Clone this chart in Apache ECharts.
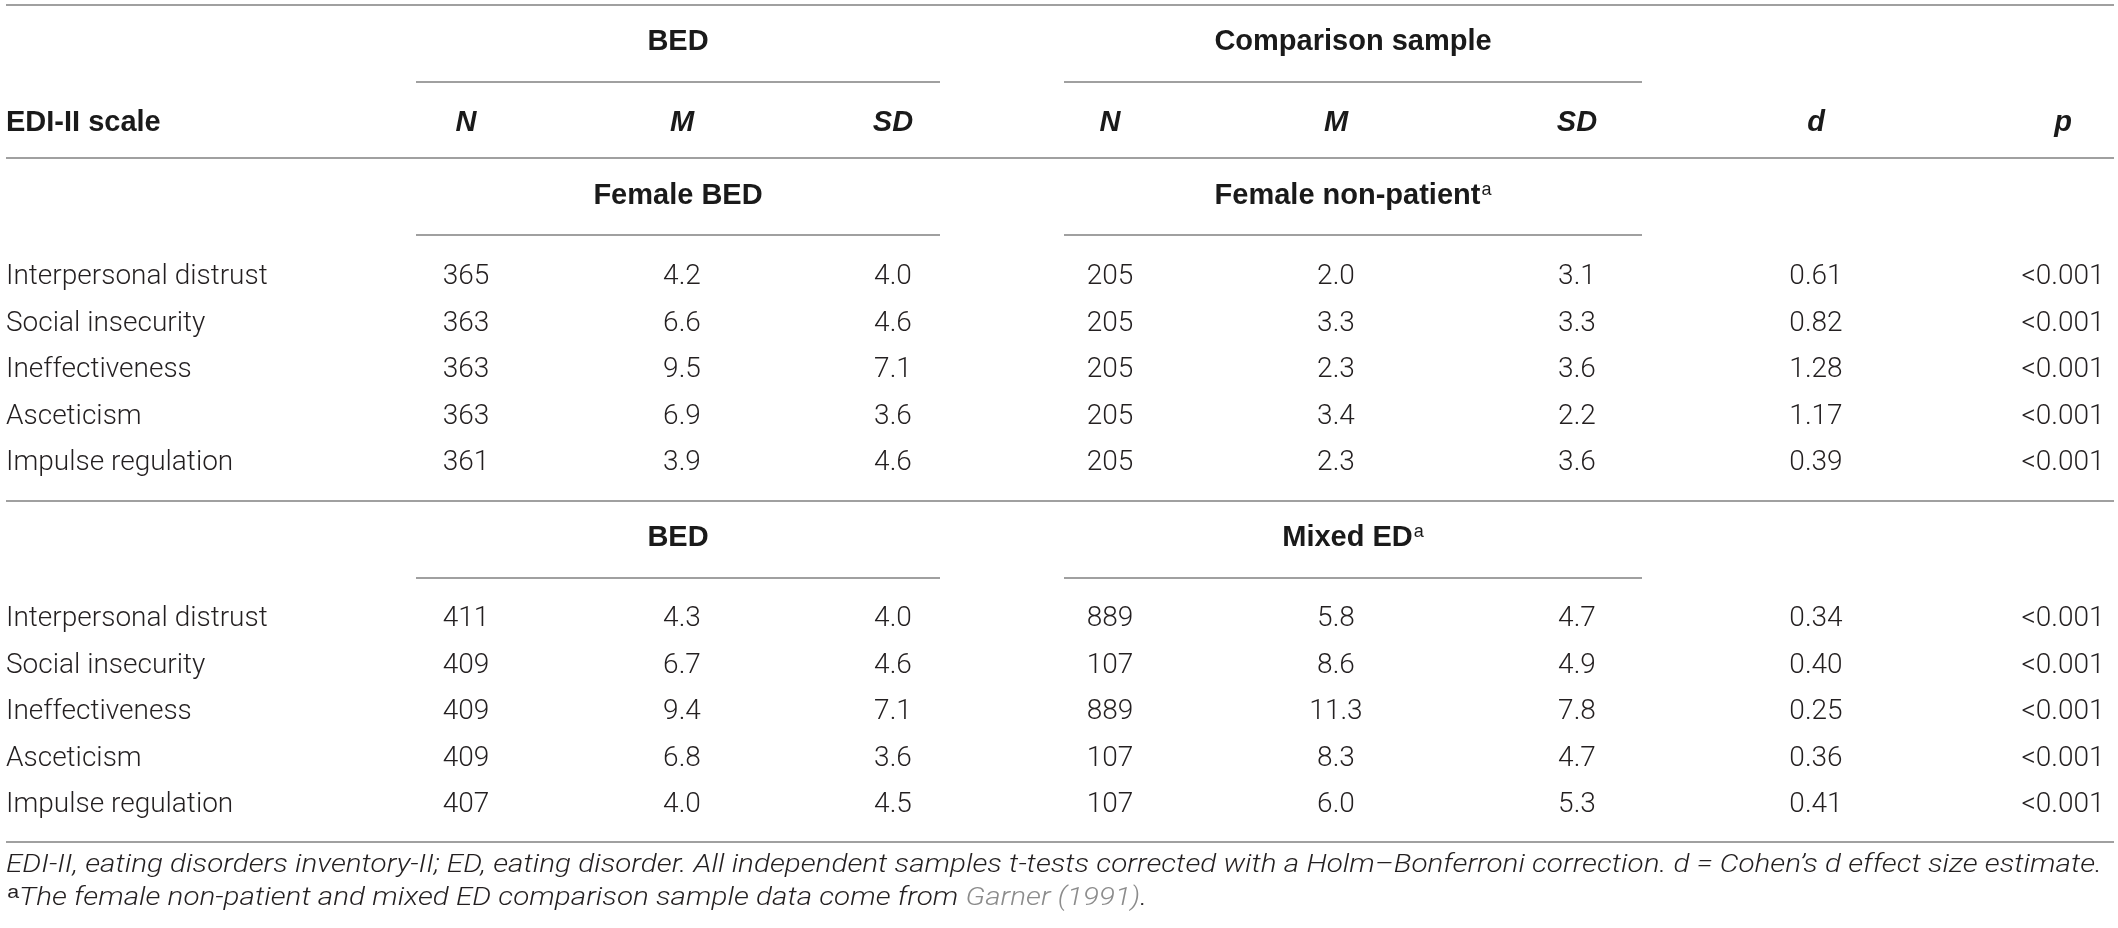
<!DOCTYPE html>
<html>
<head>
<meta charset="utf-8">
<title>EDI-II scale comparison</title>
<script src="https://cdn.jsdelivr.net/npm/echarts@6/dist/echarts.min.js"></script>
<style>
  html, body { margin: 0; padding: 0; background: #fff; }
  #table { width: 2118px; height: 928px; }
</style>
</head>
<body>
<div id="table"></div>
<script>
// ---- data ----
const scales = ['Interpersonal distrust', 'Social insecurity', 'Ineffectiveness', 'Asceticism', 'Impulse regulation'];

// female BED vs female non-patient
const femaleBedN = [365, 363, 363, 363, 361];
const femaleBedM = [4.2, 6.6, 9.5, 6.9, 3.9];
const femaleBedSD = [4.0, 4.6, 7.1, 3.6, 4.6];
const nonPatientN = [205, 205, 205, 205, 205];
const nonPatientM = [2.0, 3.3, 2.3, 3.4, 2.3];
const nonPatientSD = [3.1, 3.3, 3.6, 2.2, 3.6];
const femaleD = [0.61, 0.82, 1.28, 1.17, 0.39];
const femaleP = ['<0.001', '<0.001', '<0.001', '<0.001', '<0.001'];

// BED vs mixed ED
const bedN = [411, 409, 409, 409, 407];
const bedM = [4.3, 6.7, 9.4, 6.8, 4.0];
const bedSD = [4.0, 4.6, 7.1, 3.6, 4.5];
const mixedN = [889, 107, 889, 107, 107];
const mixedM = [5.8, 8.6, 11.3, 8.3, 6.0];
const mixedSD = [4.7, 4.9, 7.8, 4.7, 5.3];
const mixedD = [0.34, 0.40, 0.25, 0.36, 0.41];
const mixedP = ['<0.001', '<0.001', '<0.001', '<0.001', '<0.001'];

const groupHeads = ['BED', 'Comparison sample'];
const colHeads = ['N', 'M', 'SD', 'N', 'M', 'SD', 'd', 'p'];
const block1Heads = ['Female BED', '{t|Female non-patient}{sup|a}'];
const block2Heads = ['BED', '{t|Mixed ED}{sup|a}'];
const note1 = 'EDI-II, eating disorders inventory-II; ED, eating disorder. All independent samples t-tests corrected with a Holm\u2013Bonferroni correction. d = Cohen\u2019s d effect size estimate.';
const note2 = '{sup|a}{t|The female non-patient and mixed ED comparison sample data come from }{link|Garner (1991)}{t|.}';

// ---- layout ----
const W = 2118, H = 928;
const colX = [6, 466, 682, 893, 1110, 1336, 1577, 1816, 2063];   // label col + 8 value cols
const spanBed = [416, 940];
const spanCmp = [1064, 1642];
const yGroup = 42, yColHead = 123, yBlock1Head = 196, yBlock2Head = 538;
const block1Y = [277, 323.5, 370, 416.5, 463];
const block2Y = [619, 665.5, 712, 758.5, 805];
const yNote1 = 866, yNote2 = 899;
const noteWidth = 2096;

const INK = '#231f20';
const RULE = '#808080';
const LIGHT = { fontFamily: 'Roboto', fontWeight: 300, fontSize: 28, fill: INK };
const BOLD = { fontFamily: 'Liberation Sans', fontWeight: 'bold', fontSize: 29, fill: '#1a1a1a' };
const BOLDIT = { fontFamily: 'Liberation Sans', fontWeight: 'bold', fontStyle: 'italic', fontSize: 29, fill: '#1a1a1a' };
const NOTE = { fontFamily: 'Roboto', fontWeight: 300, fontStyle: 'italic', fontSize: 25, fill: INK };
const SUP_RICH = {
  t: {},
  sup: { fontSize: 18, padding: [0, 0, 12, 1] },
  link: { fill: '#8c8c8c', color: '#8c8c8c' }
};

// horizontal stretch so the footnote fills the table width like the original typeset
const measureCtx = document.createElement('canvas').getContext('2d');
measureCtx.font = 'italic 300 25px Roboto';
const noteScale = noteWidth / measureCtx.measureText(note1).width;

// ---- build cells ----
const cells = [];
function cell(x, y, text, style, align, scaleX) {
  cells.push({ value: [x, y], text: text, style: style, align: align || 'center', scaleX: scaleX || 1 });
}

cell((spanBed[0] + spanBed[1]) / 2, yGroup, groupHeads[0], BOLD);
cell((spanCmp[0] + spanCmp[1]) / 2, yGroup, groupHeads[1], BOLD);
cell(colX[0], yColHead, 'EDI-II scale', BOLD, 'left');
colHeads.forEach((h, i) => cell(colX[i + 1], yColHead, h, BOLDIT));
cell((spanBed[0] + spanBed[1]) / 2, yBlock1Head, block1Heads[0], BOLD);
cell((spanCmp[0] + spanCmp[1]) / 2, yBlock1Head, block1Heads[1], BOLD);
cell((spanBed[0] + spanBed[1]) / 2, yBlock2Head, block2Heads[0], BOLD);
cell((spanCmp[0] + spanCmp[1]) / 2, yBlock2Head, block2Heads[1], BOLD);

function block(ys, cols) {
  scales.forEach((s, r) => {
    cell(colX[0], ys[r], s, LIGHT, 'left');
    cols.forEach((c, k) => {
      const v = c.vals[r];
      const txt = typeof v === 'number' && c.dec != null ? v.toFixed(c.dec) : String(v);
      cell(colX[k + 1], ys[r], txt, LIGHT);
    });
  });
}
block(block1Y, [
  { vals: femaleBedN }, { vals: femaleBedM, dec: 1 }, { vals: femaleBedSD, dec: 1 },
  { vals: nonPatientN }, { vals: nonPatientM, dec: 1 }, { vals: nonPatientSD, dec: 1 },
  { vals: femaleD, dec: 2 }, { vals: femaleP }
]);
block(block2Y, [
  { vals: bedN }, { vals: bedM, dec: 1 }, { vals: bedSD, dec: 1 },
  { vals: mixedN }, { vals: mixedM, dec: 1 }, { vals: mixedSD, dec: 1 },
  { vals: mixedD, dec: 2 }, { vals: mixedP }
]);
cell(colX[0], yNote1, note1, NOTE, 'left', noteScale);
cell(colX[0], yNote2, note2, NOTE, 'left', noteScale);

// horizontal rules: [x1, y, x2]
const rules = [
  [6, 5, 2114],
  [spanBed[0], 82, spanBed[1]], [spanCmp[0], 82, spanCmp[1]],
  [6, 158, 2114],
  [spanBed[0], 235, spanBed[1]], [spanCmp[0], 235, spanCmp[1]],
  [6, 501, 2114],
  [spanBed[0], 578, spanBed[1]], [spanCmp[0], 578, spanCmp[1]],
  [6, 842, 2114]
];

const chart = echarts.init(document.getElementById('table'), null, { renderer: 'canvas' });
chart.setOption({
  animation: false,
  grid: { left: 0, right: 0, top: 0, bottom: 0 },
  xAxis: { type: 'value', min: 0, max: W, show: false },
  yAxis: { type: 'value', min: 0, max: H, inverse: true, show: false },
  series: [
    {
      type: 'custom',
      clip: false,
      silent: true,
      data: rules,
      renderItem: (params, api) => {
        const a = api.coord([api.value(0), api.value(1)]);
        const b = api.coord([api.value(2), api.value(1)]);
        return {
          type: 'line',
          shape: { x1: a[0], y1: a[1], x2: b[0], y2: b[1] },
          style: { stroke: RULE, lineWidth: 1.6 }
        };
      }
    },
    {
      type: 'custom',
      clip: false,
      silent: true,
      data: cells.map(c => c.value),
      renderItem: (params, api) => {
        const c = cells[params.dataIndex];
        const pt = api.coord([api.value(0), api.value(1)]);
        return {
          type: 'text',
          x: pt[0],
          y: pt[1],
          scaleX: c.scaleX,
          style: Object.assign({}, c.style, {
            text: c.text,
            x: 0,
            y: 0,
            align: c.align,
            verticalAlign: 'middle',
            rich: SUP_RICH
          })
        };
      }
    }
  ]
});
</script>
</body>
</html>
